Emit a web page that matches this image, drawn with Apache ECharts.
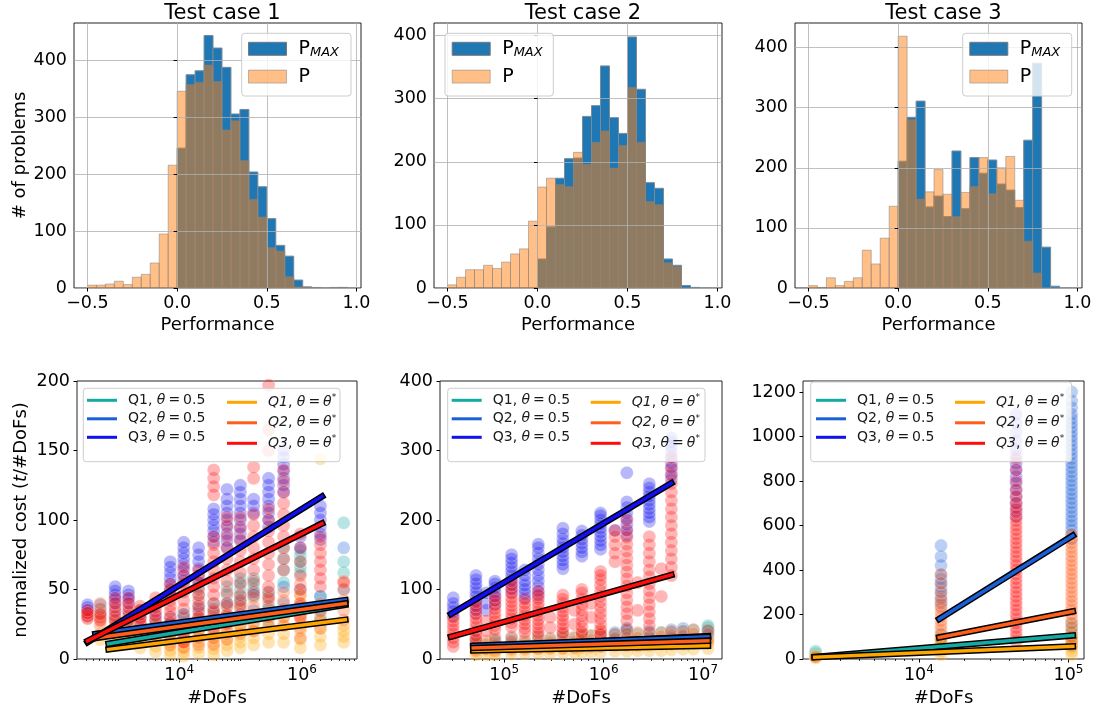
<!DOCTYPE html>
<html><head><meta charset="utf-8">
<script src="https://cdn.jsdelivr.net/npm/echarts@6/dist/echarts.min.js"></script>
<style>html,body{margin:0;padding:0;background:#fff}#c{width:1101px;height:715px}</style>
</head><body><div id="c"></div>
<script>
const FONT = 'DejaVu Sans';
// ---------- histogram data ----------
const binStarts = [-0.5,-0.45,-0.4,-0.35,-0.3,-0.25,-0.2,-0.15,-0.1,-0.05,0,0.05,0.1,0.15,0.2,0.25,0.3,0.35,0.4,0.45,0.5,0.55,0.6,0.65,0.7,0.75,0.8,0.85,0.9,0.95];
const BIN_W = 0.05;
const tc1_P    = [5,5,7,12,6,19,24,44,95,216,346,358,362,392,363,278,294,224,156,125,71,65,20,2,1,1,0,1,1,0];
const tc1_Pmax = [0,0,0,0,0,0,0,0,0,0,246,375,382,444,422,388,306,314,204,178,122,75,56,14,2,0,0,0,1,0];
const tc2_P    = [5,17,29,29,36,31,41,54,62,106,160,174,164,161,215,196,231,249,190,226,318,231,137,132,40,34,0,0,0,0];
const tc2_Pmax = [0,0,0,0,0,0,0,0,0,0,46,97,174,205,206,272,289,352,270,245,398,315,167,158,46,36,4,1,0,0];
const tc3_P    = [4,1,17,4,11,17,63,40,83,136,419,280,148,160,197,156,119,159,169,217,157,200,219,146,78,25,0,0,0,0];
const tc3_Pmax = [0,0,0,0,0,0,0,0,0,0,211,284,311,135,153,119,228,132,217,191,213,173,163,134,246,374,68,3,0,0];
const histXTicks = [-0.5, 0, 0.5, 1.0];
const histYTicks = [0, 100, 200, 300, 400];

// ---------- scatter data: test case 1 ----------
const tc1_x = [320, 515, 900, 1490, 2310, 4100, 7130, 11800, 20700, 36400, 60000, 98900, 163000, 286000, 503000, 942000, 2000000, 4800000];
const tc1_q1a = [[], [], [22,26], [20,25], [20], [18,24], [15,20,26], [18,25,32], [30,38,46,52], [25,32,40], [30,38,46,52], [40,45,50,55,58], [46,50,54,58], [28,36,45], [55,64,72,80], [62,66,70,74,78], [30,45], [62,70,98]];
const tc1_q2a = [[], [30,33,36,39], [30,35], [28,34], [25,30], [22,28], [25,30], [25,32], [28,36], [28,36], [30,40], [32,42], [35,46], [38,48], [40,52], [38,50], [35,45], [50,80]];
const tc1_q3a = [[31,33,35,37,39], [], [40,43,46,49,52], [40,43,46,49], [30,35], [32], [46,50,54,58,62,66,70], [56,60,64,68,72,76,80,84], [55,60,65,70,75,80], [84,88,92,96,100,104,108], [80,85,90,95,100,105,110,115,122], [85,90,95,100,105,110,115,120,125], [105,110,115], [95,100,105,110,115,120,125,130], [120,125,130,135,140,145,150], [80,88], [86,90,95,100,105,110], []];
const tc1_q1b = [[], [14,18], [12,16], [12,16], [8,12,16], [5,9,13,17], [3,6,9,12,16], [2,5,8,11,14], [4,8,12,16,20], [3,7,11,15,19], [6,10,14,18,22], [8,12,16,20,24,28], [10,15,20,25,30], [12,18,24,30], [12,18,24,30], [8,14,20,26,32,40,46], [10,16,22,28,144], [12,16,20,24]];
const tc1_q2b = [[30,33], [24,27,30,33,36,40], [20,24,28], [20,24,28], [18,22,26,30,34], [14,18,22,26], [10,14,18,22,26], [8,12,16,20,24], [10,15,20,25,30], [10,15,20,25,30,35], [14,20,26,32,38], [18,24,30,36,42], [20,26,32,38,44], [24,30,36,42,48], [24,30,36,42,48], [15,22,30,38,46,54], [22,28,34,40], [28,35,42,50,56]];
const tc1_q3b = [[29,31,33,35], [28,32], [28,31,34,37,40,44], [28,31,34,37,40,44], [26,29,32,35,38], [28,31,34,37,40,44], [22,26,30,34,38,42,46,50,54], [12,18,24,30,36,42,48,54,60,66], [30,34,38,42,46,50,55,60,64], [22,28,34,40,46,52,58,64,70,76,82,88,118,124,130,136], [25,32,40,48,56,64,72,80,88,96,102], [30,38,46,54,62,70,78,86,94,102], [48,56,64,72,80,88,96,104,130,138], [44,52,60,68,76,84,92,100,108,150,165,197], [64,72,80,88,96,104,112,120,128,136], [30,40,50,60,70,80,90], [52,58,64,70,76,82,88], [55]];
const tc1_fit = {
  q1a: [[703, 11], [5100000, 39]],
  q2a: [[427, 18], [5100000, 42.4]],
  q3a: [[320, 12], [2130000, 117]],
  q1b: [[703, 6.9], [5100000, 28.2]],
  q2b: [[427, 15.1], [5100000, 40]],
  q3b: [[320, 13], [2130000, 97.5]]
};
// ---------- scatter data: test case 2 ----------
const tc2_x = [30700, 52000, 66000, 80700, 118600, 161000, 220000, 290000, 389000, 510000, 604000, 750000, 931000, 1300000, 1710000, 2200000, 2880000, 3800000, 4800000, 6300000, 8000000, 11200000];
const tc2_q1a = [[], [18,25], [16,22], [18,26], [17,24], [18,25], [19,27], [20,28], [20,30], [21,30], [22,32], [22,33], [23,34], [25,35], [24,36,40], [25,36], [25,37], [26,38], [26,38], [27,40], [28,42], [30,40,45,48]];
const tc2_q2a = [[], [20,28], [], [20,28], [22,30], [], [22,32], [], [24,34], [], [25,35], [], [26,36], [28,38], [30,42,44], [], [30,40], [], [30,42], [32,44], [], [34,40]];
const tc2_q3a = [[62,68,74,80,88], [66,72,78,84,90,96,102,108,114,120], [70,80,95], [78,84,90,96,102,108,112], [96,102,108,114,120,126,132,138,144,150], [88,94,100,106,112,120,128], [90,96,104,112,120,128,136,144,152,160,165], [], [130,136,142,148,154,160,166,172,180,188], [], [148,154,160,166,172,178,184], [], [158,164,170,176,182,188,194,200,206,210], [185], [178,186,194,202,210,218,226,268], [], [198,204,210,216,222,228,234,240,246,252], [], [258,266,274,282,290,298,306,312,318], [], [], []];
const tc2_q1b = [[], [6,10,14], [6,12], [6,10,15], [7,12,16], [8,13], [8,14,18], [8,14], [9,15,20], [9,15], [10,16,22], [10,16], [10,17,23], [11,18], [11,18,24], [12,18], [12,19,25], [12,20], [13,20,26], [14,21], [14,22], [15,22,28]];
const tc2_q2b = [[], [12,18,24,30], [14,20,26], [12,18,25,32], [14,20,26,32], [15,22,28], [15,22,28,34], [16,24,30], [15,24,30,36], [16,25,32], [18,26,32,38], [18,27,34], [18,28,34,40], [20,30,36], [20,30,36,42], [20,30,38], [22,32,38], [22,32,38], [22,34,40], [24,34,40], [24,36,42], [25,36,42]];
const tc2_q3b = [[18,24,30,36,42,48,54,60], [28,34,40,46,52,58,64,70,76,82], [40,55], [42,48,54,60,66,72,78,84,90], [46,52,58,64,70,76,82,88,94,100,106,112], [38,44,50,56,62,68,74,80,86], [38,44,50,56,62,68,74,80,86,92,98], [45,60], [38,44,50,56,62,68,74,80,86,92], [50,70], [38,46,54,62,70,78,86,95,100], [60,80], [35,42,50,58,66,74,82,90,98,106,114,120,126], [140,152,164,176,185], [55,65,75,85,95,105,115,125,135,145,155,165,175,185,200], [70,110], [48,58,68,78,88,98,108,118,128,140,152,164,176], [90,130], [120,132,144,156,168,180,192,204,216,228,240,252,264,276,290], [], [], []];
const tc2_fit = {
  q1a: [[48800, 17], [11200000, 33]],
  q2a: [[48800, 19], [11200000, 32]],
  q3a: [[29100, 64.7], [4800000, 253]],
  q1b: [[48800, 12.4], [11200000, 19]],
  q2b: [[48800, 15.8], [11200000, 26.3]],
  q3b: [[29100, 32], [4800000, 121]]
};
// ---------- scatter data: test case 3 ----------
const tc3_x = [2040, 14060, 44700, 105000];
const tc3_q1a = [[15,25,35], [50,70,90,110], [], [60,80,100,120,140,160]];
const tc3_q2a = [[], [240,260,280,300,320,340,360,380,420,460,510], [], [540,560,580,600,620,640,660,680,700,720,740,760,780,800,820,840,860,880,900,920,940,960,980,1000,1020,1040,1060,1080,1100,1130,1160,1200]];
const tc3_q3a = [[], [], [640,670,700,730,760,790,820,850,880,910,940,980,1020,1060,1100], []];
const tc3_q1b = [[5,10,15], [20,35,50,65,80,95], [], [20,35,50,65,80,95]];
const tc3_q2b = [[8], [90,110,130,150,170,190,210,230,250,270,300,340,380], [], [60,80,100,120,140,160,180,200,220,240,260,280,300,320,340,360,380,400,420,440,460,480,500,520,540,560]];
const tc3_q3b = [[], [], [80,100,120,140,160,180,200,220,240,260,280,300,320,340,360,380,400,420,440,460,480,500,520,540,560,580,600,620,640,660,680,700,730,760,800,850,900], []];
const tc3_fit = {
  q1a: [[2010, 9], [107000, 106]],
  q2a: [[13670, 180], [107000, 555]],
  q1b: [[2010, 8], [107000, 57]],
  q2b: [[13670, 97], [107000, 214]]
};
const costTicks = [[0,50,100,150,200], [0,100,200,300,400], [0,200,400,600,800,1000,1200]];
const dofTicks = [[1e4, 1e6], [1e5, 1e6, 1e7], [1e4, 1e5]];
const titles = ['Test case 1', 'Test case 2', 'Test case 3'];
const LN = ['Q1, θ = 0.5', 'Q2, θ = 0.5', 'Q3, θ = 0.5', 'Q1, θ = θ*', 'Q2, θ = θ*', 'Q3, θ = θ*'];
const LC = ['#14a9a3', '#1b5fd6', '#1010f0', '#ffa500', '#ff5e1a', '#ff0d0d'];

// ---------- layout ----------
const topGrids = [[74, 23, 287, 265], [434, 23, 288, 265], [795, 23, 287, 265]];
const botGrids = [[77, 381, 280, 278], [440, 381, 282, 278], [803, 381, 281, 278]];
const histYMax = [466, 420, 441];
const logExt = [[215, 7.9e6], [22600, 1.55e7], [1680, 127000]];
const costMax = [200, 400, 1250];
const TICK_FS = 17.5, NAME_FS = 18;

const grid = [];
topGrids.concat(botGrids).forEach(g => grid.push({left: g[0], top: g[1], width: g[2], height: g[3], show: true, borderColor: '#222', borderWidth: 1, backgroundColor: 'transparent', containLabel: false}));

const txt = {color: '#000', fontFamily: FONT};
const xAxis = [], yAxis = [];
const minus = v => (v < 0 ? '\u2212' : '') + Math.abs(v).toFixed(1);
for (let i = 0; i < 3; i++) {
  xAxis.push({type: 'value', gridIndex: i, min: -0.575, max: 1.025, z: 3,
    axisLine: {show: false}, axisTick: {customValues: histXTicks, length: 3.5, lineStyle: {color: '#000'}},
    axisLabel: {customValues: histXTicks, formatter: minus, margin: 6, fontSize: TICK_FS, ...txt},
    splitLine: {show: true, lineStyle: {color: '#b0b0b0', width: 0.8}},
    name: 'Performance', nameLocation: 'middle', nameGap: 28, nameTextStyle: {fontSize: NAME_FS, ...txt}});
  yAxis.push({type: 'value', gridIndex: i, min: 0, max: histYMax[i], z: 3,
    axisLine: {show: false}, axisTick: {show: true, customValues: histYTicks, length: 3.5, lineStyle: {color: '#000'}},
    axisLabel: {customValues: histYTicks, margin: 7, fontSize: TICK_FS, formatter: v => String(v), ...txt},
    splitLine: {show: true, lineStyle: {color: '#b0b0b0', width: 0.8}},
    name: i === 0 ? '# of problems' : '', nameLocation: 'middle', nameGap: 44, nameTextStyle: {fontSize: NAME_FS, ...txt}});
}
const supRich = {b: {fontSize: TICK_FS, lineHeight: 22, ...txt}, s: {fontSize: 12, lineHeight: 12, verticalAlign: 'top', ...txt}};
for (let i = 0; i < 3; i++) {
  xAxis.push({type: 'log', logBase: 10, gridIndex: 3 + i, min: logExt[i][0], max: logExt[i][1], position: 'bottom',
    axisLine: {show: false}, axisTick: {customValues: dofTicks[i], length: 3.5, lineStyle: {color: '#000'}},
    axisLabel: {customValues: dofTicks[i], margin: 5, formatter: v => '{b|10}{s|' + Math.round(Math.log10(v)) + '}', rich: supRich},
    splitLine: {show: false},
    name: '#DoFs', nameLocation: 'middle', nameGap: 30, nameTextStyle: {fontSize: NAME_FS, ...txt}});
  yAxis.push({type: 'value', gridIndex: 3 + i, min: 0, max: costMax[i],
    axisLine: {show: false}, axisTick: {show: true, customValues: costTicks[i], length: 3.5, lineStyle: {color: '#000'}},
    axisLabel: {customValues: costTicks[i], margin: 7, fontSize: TICK_FS, formatter: v => String(v), ...txt},
    splitLine: {show: false},
    name: i === 0 ? 'normalized cost ({it|t}/#DoFs)' : '', nameLocation: 'middle', nameGap: 47,
    nameTextStyle: {fontSize: NAME_FS, ...txt, rich: {it: {fontSize: NAME_FS, fontStyle: 'italic', ...txt}}}});
}
// minor tick axes
for (let i = 0; i < 3; i++) {
  const minors = [];
  for (let e = 2; e <= 7; e++) for (let m = 1; m <= 9; m++) {
    const v = m * Math.pow(10, e);
    if (dofTicks[i].indexOf(v) < 0) minors.push(v);
  }
  xAxis.push({type: 'log', logBase: 10, gridIndex: 3 + i, min: logExt[i][0], max: logExt[i][1], position: 'bottom', offset: 0,
    axisLine: {show: false}, axisTick: {customValues: minors, length: 2, lineStyle: {color: '#000', width: 0.8}},
    axisLabel: {show: false}, splitLine: {show: false}});
}

// ---------- series ----------
const series = [];
function hist(gi, counts, fill, stroke, name) {
  const data = [];
  binStarts.forEach((b, k) => { if (counts[k] > 0) data.push([b, counts[k]]); });
  series.push({type: 'custom', name, xAxisIndex: gi, yAxisIndex: gi, z: 2, clip: true, silent: true,
    itemStyle: {color: fill, borderColor: stroke, borderWidth: 1},
    encode: {x: 0, y: 1},
    renderItem: (params, api) => {
      const x0 = api.value(0), h = api.value(1);
      const a = api.coord([x0, h]), b = api.coord([x0 + BIN_W, 0]);
      return {type: 'rect', shape: {x: a[0], y: a[1], width: b[0] - a[0], height: b[1] - a[1]}, style: {fill, stroke, lineWidth: 1}};
    },
    data});
}
const PM_FILL = '#1f77b4', PM_STROKE = '#7a8a98';
const P_FILL = 'rgba(255,127,14,0.5)', P_STROKE = 'rgba(128,128,128,0.5)';
[[tc1_Pmax, tc1_P], [tc2_Pmax, tc2_P], [tc3_Pmax, tc3_P]].forEach((d, i) => {
  hist(i, d[0], PM_FILL, PM_STROKE, 'P_MAX');
  hist(i, d[1], P_FILL, P_STROKE, 'P');
});

function scat(gi, xs, cols, color, name) {
  const data = [];
  cols.forEach((ys, k) => ys.forEach(y => data.push([xs[k], y])));
  series.push({type: 'scatter', name, xAxisIndex: gi, yAxisIndex: gi, z: 2, symbolSize: 13, silent: true, data,
    itemStyle: {color, opacity: 0.3, borderColor: '#fff', borderWidth: 0.8}, emphasis: {disabled: true}});
}
function fit(gi, pts, color, name) {
  if (!pts) return;
  series.push({type: 'line', name: name + ' outline', xAxisIndex: gi, yAxisIndex: gi, z: 3, data: pts, symbol: 'none', silent: true,
    lineStyle: {color: '#000', width: 6.5, cap: 'square'}, itemStyle: {color: '#000'}, emphasis: {disabled: true}});
  series.push({type: 'line', name, xAxisIndex: gi, yAxisIndex: gi, z: 3, data: pts, symbol: 'none', silent: true,
    lineStyle: {color, width: 3.5, cap: 'square'}, itemStyle: {color}, emphasis: {disabled: true}});
}
const scDefs = [
  [tc1_x, [tc1_q1a, tc1_q2a, tc1_q3a, tc1_q1b, tc1_q2b, tc1_q3b], tc1_fit],
  [tc2_x, [tc2_q1a, tc2_q2a, tc2_q3a, tc2_q1b, tc2_q2b, tc2_q3b], tc2_fit],
  [tc3_x, [tc3_q1a, tc3_q2a, tc3_q3a, tc3_q1b, tc3_q2b, tc3_q3b], tc3_fit]
];
const fitKeys = ['q1a', 'q2a', 'q3a', 'q1b', 'q2b', 'q3b'];
scDefs.forEach((d, i) => {
  const gi = 3 + i;
  d[1].forEach((cols, s) => scat(gi, d[0], cols, LC[s], 'pts ' + LN[s]));
  fitKeys.forEach((k, s) => fit(gi, d[2][k], LC[s], LN[s]));
});

// ---------- legends ----------
const LFS = 14;
const legendRich = {
  n: {fontSize: LFS, lineHeight: 18, color: '#1a1a1a', fontFamily: FONT},
  i: {fontSize: LFS, lineHeight: 18, fontStyle: 'italic', color: '#1a1a1a', fontFamily: FONT},
  e: {fontSize: LFS, lineHeight: 18, color: '#1a1a1a', fontFamily: FONT, padding: [0, 3, 0, 3]},
  s: {fontSize: 9, lineHeight: 9, verticalAlign: 'top', color: '#1a1a1a', fontFamily: FONT}
};
const fmtQ = name => {
  const q = name.slice(0, 2);
  if (name.indexOf('θ*') >= 0) return '{i|' + q + '}{n|, }{i|θ}{e|=}{i|θ}{s|*}';
  return '{n|' + q + ', }{i|θ}{e|=}{n|0.5}';
};
const legend = [];
const topLeg = [248, 451.7, 969.3];
topLeg.forEach(x => legend.push({
  data: [{name: 'P_MAX', itemStyle: {borderColor: '#777', borderWidth: 1}}, {name: 'P', itemStyle: {borderColor: 'rgba(128,128,128,0.5)', borderWidth: 1}}],
  orient: 'vertical', left: x, top: 39.3, itemWidth: 38, itemHeight: 13, itemGap: 8.3, icon: 'rect', padding: 0, z: 6,
  selectedMode: false,
  textStyle: {padding: [0, 0, 0, 7], rich: {
    n: {fontSize: 19, lineHeight: 20, color: '#000', fontFamily: FONT},
    sub: {fontSize: 13, lineHeight: 13, verticalAlign: 'bottom', fontStyle: 'italic', color: '#000', fontFamily: FONT}}},
  formatter: nm => nm === 'P_MAX' ? '{n|P}{sub|MAX}' : '{n|P}'
}));
const botLeg = [[87, 227], [451.7, 590.7], [816, 955]];
botLeg.forEach(p => {
  [0, 1].forEach(c => legend.push({
    data: LN.slice(c * 3, c * 3 + 3), orient: 'vertical', left: p[c], top: 393.3,
    itemWidth: 30, itemHeight: 3, itemGap: 4.5, icon: 'rect', padding: 0, z: 6, selectedMode: false,
    textStyle: {padding: [0, 0, 0, 6], rich: legendRich}, formatter: fmtQ
  }));
});
const boxes = [[241.7, 33.3, 109.3, 62.7], [445, 33.3, 108.3, 62.7], [962.7, 33.3, 109, 62.7],
               [83.3, 388.3, 256.7, 73.4], [447.7, 388.3, 257.3, 73.4], [810.7, 382, 261, 79.7]];
const graphic = {elements: boxes.map(b => ({type: 'rect', z: 5, silent: true,
  shape: {x: b[0], y: b[1], width: b[2], height: b[3], r: 3},
  style: {fill: 'rgba(255,255,255,0.8)', stroke: '#cccccc', lineWidth: 1}}))};

const title = titles.map((t, i) => ({text: t, left: topGrids[i][0] + topGrids[i][2] / 2, top: -2, textAlign: 'center',
  textStyle: {fontSize: 21, fontWeight: 'normal', color: '#000', fontFamily: FONT}}));

const chart = echarts.init(document.getElementById('c'), null, {renderer: 'canvas'});
chart.setOption({animation: false, backgroundColor: '#fff', textStyle: {fontFamily: FONT}, title, grid, xAxis, yAxis, legend, graphic, series});
</script></body></html>
